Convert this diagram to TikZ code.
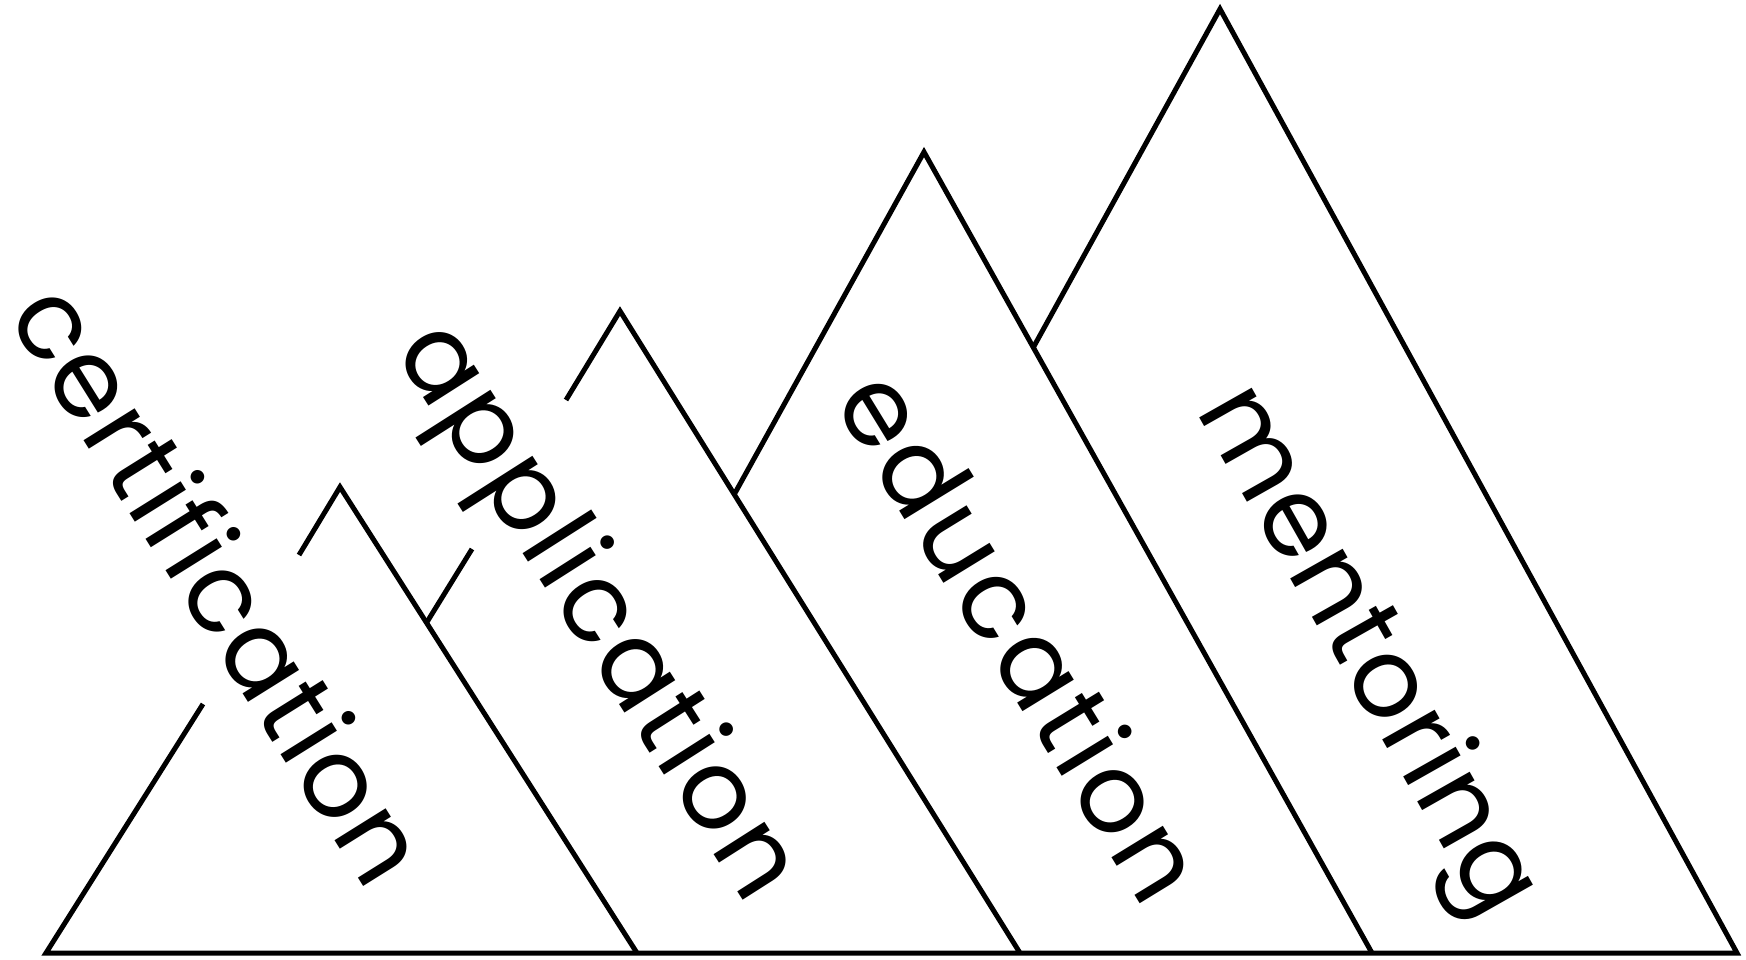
\documentclass[tikz,border=0pt]{standalone}
\usepackage{fontspec}
\setmainfont{Poppins}
\begin{document}
\begin{tikzpicture}[x=1pt,y=-1pt,line width=5pt,line join=miter,
  lbl/.style={inner sep=0pt,anchor=mid,font=\fontsize{110}{118}\selectfont}]
\useasboundingbox (0,0) rectangle (1746,959);
% corner points
\coordinate (cL) at (46,953);
\coordinate (cM) at (203,704);
\coordinate (cT) at (299,555);
\coordinate (cA) at (340,487);
\coordinate (cR) at (637,953);
\coordinate (aS) at (472,549);
\coordinate (jAC) at (427,622);
\coordinate (aT) at (566,400);
\coordinate (aA) at (620,311);
\coordinate (aR) at (1020,953);
\coordinate (jEA) at (735,493);
\coordinate (eA) at (924,152);
\coordinate (eR) at (1372,953);
\coordinate (jME) at (1033,348);
\coordinate (mA) at (1220,9);
\coordinate (mR) at (1737,953);
% mountains
\draw (cM) -- (cL) -- (mR) -- (mA) -- (jME);
\draw (cT) -- (cA) -- (cR);
\draw (aS) -- (jAC);
\draw (aT) -- (aA) -- (aR);
\draw (jEA) -- (eA) -- (eR);
% labels
\node[lbl,rotate=-58] (cert) at (189,603) {\addfontfeature{LetterSpace=2}certification};
\node[lbl,rotate=-57.5] (appl) at (573,627) {\addfontfeature{LetterSpace=3}application};
\node[lbl,rotate=-58.5] (educ) at (991,655) {\addfontfeature{LetterSpace=4}education};
\node[lbl,rotate=-60.5] (ment) at (1343,665) {\addfontfeature{LetterSpace=1.5}mentoring};
\end{tikzpicture}
\end{document}
